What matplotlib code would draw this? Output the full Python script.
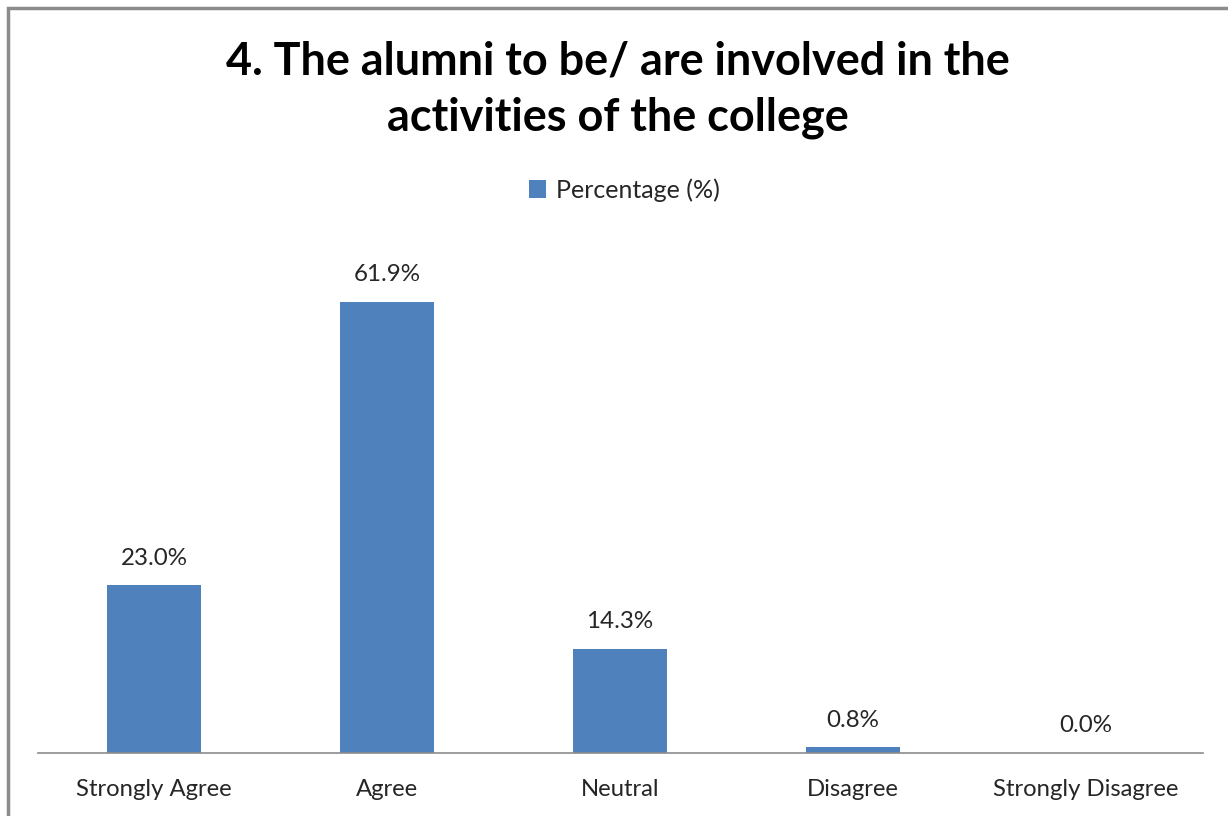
import matplotlib
matplotlib.use('Agg')

import matplotlib.pyplot as plt
from matplotlib.patches import Rectangle, Patch

categories = ['Strongly Agree', 'Agree', 'Neutral', 'Disagree', 'Strongly Disagree']
percentages = [23.0, 61.9, 14.3, 0.8, 0.0]
title = '4. The alumni to be/ are involved in the\nactivities of the college'
series_name = 'Percentage (%)'

bar_color = '#4F81BD'
W, H = 1228, 816

plt.rcParams['font.family'] = ['Lato', 'DejaVu Sans']

fig = plt.figure(figsize=(W / 100, H / 100), dpi=100)

# outer chart frame, cut off at right and bottom like the screenshot
fig.patches.append(Rectangle((8 / W, -0.1), 1.2, 1 - 8 / H + 0.1,
                             transform=fig.transFigure, fill=False,
                             edgecolor='#8c8c8c', linewidth=2.5))

ax = fig.add_axes([37.5 / W, (H - 753) / H, 1165 / W, 510 / H])
x = range(len(categories))
bars = ax.bar(x, percentages, width=0.4, color=bar_color, zorder=2)

ax.set_xlim(-0.5, len(categories) - 0.5)
ax.set_ylim(0, 70)
ax.set_yticks([])
for s in ['top', 'right', 'left']:
    ax.spines[s].set_visible(False)
ax.spines['bottom'].set_color('#8c8c8c')
ax.spines['bottom'].set_linewidth(1.2)
ax.set_xticks(list(x))
ax.set_xticklabels(categories, fontsize=17.2, color='#262626')
ax.tick_params(axis='x', length=0, pad=19)

for b, v in zip(bars, percentages):
    ax.annotate(f'{v:.1f}%', (b.get_x() + b.get_width() / 2, v),
                xytext=(0, 12), textcoords='offset points',
                ha='center', va='bottom', fontsize=17.4, color='#262626')

fig.text(0.503, 1 - 90 / H, title, ha='center', va='center',
         fontsize=32.4, fontweight='bold', linespacing=1.42, color='black')

leg = fig.legend(handles=[Patch(facecolor=bar_color, label=series_name)],
                 loc='center', bbox_to_anchor=(0.5086, 1 - 190 / H),
                 frameon=False, fontsize=18, handlelength=0.7, handleheight=0.7,
                 handletextpad=0.4)
for t in leg.get_texts():
    t.set_color('#262626')

fig.savefig('out.png', dpi=100)
